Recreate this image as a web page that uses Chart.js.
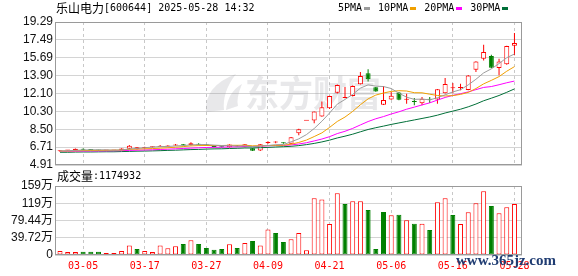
<!DOCTYPE html>
<html>
<head>
<meta charset="utf-8">
<script src="https://cdn.jsdelivr.net/npm/chart.js@4.4.1/dist/chart.umd.min.js"></script>
<style>
  html, body { margin: 0; padding: 0; background: #fff; }
  #wrap { position: relative; width: 578px; height: 276px; overflow: hidden; }
  #kline { position: absolute; left: 0; top: 0; }
  #vol { position: absolute; left: 0; top: 166px; }
</style>
</head>
<body>
<div id="wrap">
  <canvas id="kline" width="578" height="176"></canvas>
  <canvas id="vol" width="578" height="110"></canvas>
</div>
<script>
// header
const title = '乐山电力[600644] 2025-05-28 14:32';
const volTitle = '成交量:1174932';

// trading days
const days = ['02-28',
  '03-03', '03-04', '03-05', '03-06', '03-07', '03-10', '03-11', '03-12', '03-13', '03-14',
  '03-17', '03-18', '03-19', '03-20', '03-21', '03-24', '03-25', '03-26', '03-27', '03-28', '03-31',
  '04-01', '04-02', '04-03', '04-07', '04-08', '04-09', '04-10', '04-11', '04-14', '04-15',
  '04-16', '04-17', '04-18', '04-21', '04-22', '04-23', '04-24', '04-25', '04-28', '04-29', '04-30',
  '05-06', '05-07', '05-08', '05-09', '05-12', '05-13', '05-14', '05-15', '05-16',
  '05-19', '05-20', '05-21', '05-22', '05-23', '05-26', '05-27', '05-28'];

// daily prices
const open = [6.30, 6.37, 6.38, 6.50, 6.46, 6.42, 6.36, 6.38, 6.42, 6.55,
  6.49, 6.60, 6.70, 6.73, 6.78, 6.86, 6.96, 6.92, 7.05, 6.95,
  6.80, 6.75, 6.70, 6.85, 6.72, 6.60, 6.36, 7.12, 7.17, 7.15,
  7.05, 8.10, 9.35, 9.38, 9.78, 10.62, 12.18, 11.66, 11.85, 13.02,
  14.13, 12.72, 10.98, 11.50, 12.20, 11.48, 11.28, 11.11, 11.52, 11.50,
  12.12, 12.62, 12.66, 12.45, 14.50, 15.60, 15.87, 14.66, 15.05, 16.91];
const high = [6.40, 6.42, 6.58, 6.56, 6.48, 6.44, 6.40, 6.42, 6.60, 6.92,
  6.72, 6.75, 6.76, 6.92, 6.90, 7.02, 7.02, 7.20, 7.10, 7.00,
  6.84, 6.78, 7.00, 6.92, 7.02, 6.62, 7.01, 7.30, 7.30, 7.20,
  7.72, 8.55, 9.35, 10.29, 11.30, 11.88, 13.00, 12.75, 12.90, 14.26,
  14.53, 12.75, 12.85, 12.28, 12.25, 12.08, 11.65, 11.75, 11.75, 12.55,
  13.66, 13.15, 13.09, 13.95, 15.35, 17.01, 16.00, 15.60, 16.90, 18.18];
const low = [6.22, 6.34, 6.36, 6.42, 6.40, 6.34, 6.34, 6.36, 6.40, 6.50,
  6.46, 6.58, 6.68, 6.72, 6.74, 6.84, 6.85, 6.88, 6.90, 6.86,
  6.70, 6.66, 6.68, 6.74, 6.70, 6.32, 6.33, 7.05, 7.10, 7.05,
  7.02, 7.90, 9.35, 9.10, 9.75, 10.55, 12.10, 11.62, 11.80, 13.00,
  13.30, 12.28, 10.95, 11.48, 11.42, 11.08, 10.91, 10.91, 11.14, 11.08,
  12.10, 12.12, 12.42, 12.42, 14.26, 15.43, 14.65, 13.93, 15.00, 15.94];
const close = [6.38, 6.40, 6.55, 6.45, 6.42, 6.37, 6.38, 6.40, 6.58, 6.85,
  6.69, 6.72, 6.73, 6.84, 6.86, 6.98, 6.90, 7.10, 6.95, 6.90,
  6.72, 6.70, 6.98, 6.78, 6.99, 6.35, 6.99, 7.22, 7.20, 7.09,
  7.69, 8.50, 9.35, 10.29, 10.72, 11.85, 12.95, 11.68, 12.85, 13.86,
  13.53, 12.30, 11.45, 11.88, 11.48, 11.52, 11.24, 11.58, 11.48, 12.52,
  13.05, 12.65, 12.70, 13.92, 15.33, 16.27, 14.70, 15.33, 16.88, 17.18];

// moving averages as shown
const ma5 = [6.32, 6.34, 6.39, 6.42, 6.44, 6.44, 6.43, 6.40, 6.43, 6.52,
  6.58, 6.65, 6.71, 6.77, 6.77, 6.83, 6.86, 6.94, 6.96, 6.97,
  6.91, 6.87, 6.85, 6.82, 6.83, 6.76, 6.82, 6.87, 6.95, 6.97,
  7.24, 7.54, 7.97, 8.58, 9.31, 10.14, 11.03, 11.50, 12.01, 12.64,
  12.97, 12.84, 12.80, 12.60, 12.13, 11.73, 11.51, 11.54, 11.46, 11.67,
  11.97, 12.26, 12.48, 12.97, 13.53, 14.17, 14.58, 15.11, 15.70, 16.07];
const ma10 = [6.31, 6.32, 6.34, 6.36, 6.37, 6.38, 6.39, 6.40, 6.42, 6.48,
  6.51, 6.54, 6.56, 6.60, 6.64, 6.70, 6.76, 6.83, 6.86, 6.87,
  6.87, 6.87, 6.89, 6.89, 6.90, 6.84, 6.85, 6.86, 6.88, 6.90,
  7.00, 7.18, 7.42, 7.77, 8.14, 8.69, 9.29, 9.73, 10.30, 10.97,
  11.56, 11.94, 12.15, 12.31, 12.38, 12.35, 12.18, 12.17, 12.03, 11.90,
  11.85, 11.89, 12.01, 12.21, 12.60, 13.07, 13.42, 13.80, 14.34, 14.80];
const ma20 = [6.29, 6.29, 6.30, 6.31, 6.32, 6.32, 6.33, 6.34, 6.35, 6.38,
  6.40, 6.42, 6.44, 6.47, 6.50, 6.54, 6.57, 6.61, 6.64, 6.67,
  6.69, 6.70, 6.73, 6.74, 6.77, 6.77, 6.80, 6.84, 6.87, 6.88,
  6.93, 7.02, 7.15, 7.33, 7.52, 7.76, 8.07, 8.30, 8.59, 8.94,
  9.28, 9.56, 9.78, 10.04, 10.26, 10.52, 10.73, 10.95, 11.16, 11.44,
  11.70, 11.91, 12.08, 12.26, 12.49, 12.71, 12.80, 12.98, 13.18, 13.35];
const ma30 = [6.19, 6.19, 6.21, 6.22, 6.22, 6.23, 6.24, 6.24, 6.26, 6.28,
  6.30, 6.31, 6.33, 6.35, 6.38, 6.40, 6.43, 6.46, 6.48, 6.51,
  6.53, 6.54, 6.57, 6.59, 6.62, 6.62, 6.65, 6.68, 6.72, 6.75,
  6.79, 6.86, 6.96, 7.08, 7.23, 7.41, 7.63, 7.81, 8.01, 8.25,
  8.48, 8.66, 8.82, 8.99, 9.14, 9.29, 9.44, 9.59, 9.74, 9.92,
  10.14, 10.33, 10.52, 10.76, 11.04, 11.37, 11.63, 11.90, 12.22, 12.56];

// volume in 万 shares
const volume = [9.2, 6.9, 6.9, 7.7, 7.7, 7.7, 4.6, 4.6, 9.2, 22,
  13.8, 9.2, 6.9, 22, 15.4, 20, 25.3, 33.8, 25.3, 16.1,
  12.3, 13.8, 24.6, 16.1, 27.6, 32.2, 22, 59, 50.7, 30,
  36, 50.7, 10.7, 130.5, 128, 71.4, 142, 117.4, 123.6, 123.6,
  103.6, 13.8, 99, 91.3, 92.9, 79.8, 72.2, 72.2, 57.6, 121.3,
  130.5, 92.1, 71.4, 98.3, 119, 146.6, 112.8, 96, 109.8, 117.49];

// axis ticks
const priceTicks = [4.91, 6.71, 8.50, 10.30, 12.10, 13.90, 15.69, 17.49, 19.29];
const volTicks = [0, 39.72, 79.44, 119.16, 158.88];
const volTickLabels = ['0', '39.72万', '79.44万', '119万', '159万'];
const maNames = ['5PMA', '10PMA', '20PMA', '30PMA'];
const maColors = ['#9c9c9c', '#f0a000', '#ff00ff', '#006f38'];

const RED = '#ff0000';
const GREEN = '#008000';
const tickIdx = days.map((d, i) => i).filter(i => i % 8 === 3);

const candleUp = close.map((c, i) => c >= open[i]);
const volUp = close.map((c, i) => i === 0 || c >= close[i - 1]);

// mixed CJK / latin text, roughly like the SimSun look of the original
function mixedText(ctx, text, x, y, color) {
    ctx.save();
    ctx.fillStyle = color;
    ctx.textBaseline = 'middle';
    ctx.textAlign = 'left';
    for (const ch of text) {
        ctx.font = /[\u2E80-\u9FFF\uFF00-\uFFEF]/.test(ch) ? '12px "Noto Sans CJK SC"' : '10px "DejaVu Sans Mono"';
        ctx.fillText(ch, x, y);
        x += ctx.measureText(ch).width;
    }
    ctx.restore();
    return x;
}

const frame = {
    id: 'frame',
    afterDatasetsDraw(chart) {
        const { ctx, chartArea: a } = chart;
        ctx.save();
        ctx.strokeStyle = '#9a9a9a';
        ctx.lineWidth = 1;
        ctx.strokeRect(a.left + 0.5, a.top + 0.5, a.right - a.left - 1, a.bottom - a.top - 1);
        ctx.restore();
    }
};

const klineDeco = {
    id: 'klineDeco',
    beforeDatasetsDraw(chart) {
        const ctx = chart.ctx;
        ctx.save();
        ctx.fillStyle = 'rgba(150,150,160,0.22)';
        // rough swoosh of the watermark logo
        ctx.beginPath();
        ctx.moveTo(206, 112);
        ctx.quadraticCurveTo(204, 86, 236, 74);
        ctx.quadraticCurveTo(222, 92, 224, 110);
        ctx.closePath();
        ctx.fill();
        ctx.beginPath();
        ctx.moveTo(226, 110);
        ctx.quadraticCurveTo(228, 92, 242, 84);
        ctx.quadraticCurveTo(236, 98, 238, 106);
        ctx.closePath();
        ctx.fill();
        ctx.font = 'bold 36px "Noto Sans CJK SC"';
        ctx.textBaseline = 'middle';
        ctx.fillText('东方财富', 245, 93, 136);
        ctx.restore();
    },
    afterDraw(chart) {
        const ctx = chart.ctx;
        mixedText(ctx, title, 56, 8.5, '#000');
        let x = 338;
        maNames.forEach((name, k) => {
            x = mixedText(ctx, name, x, 8.5, '#000');
            ctx.fillStyle = maColors[k];
            ctx.fillRect(Math.round(x + 2), 7, 6, 3);
            x += 2 + 6 + 8;
        });
    }
};

const volDeco = {
    id: 'volDeco',
    afterDraw(chart) {
        const ctx = chart.ctx;
        mixedText(ctx, volTitle, 57, 10.5, '#000');
        ctx.save();
        ctx.fillStyle = '#1f3c72';
        ctx.font = 'bold 15px "Liberation Serif"';
        ctx.textBaseline = 'middle';
        ctx.fillText('www.365jz.com', 456, 95, 116);
        ctx.restore();
    }
};

const xScale = (showLabels) => ({
    type: 'linear',
    min: -0.65,
    max: 59.98,
    offset: false,
    afterBuildTicks: s => { s.ticks = tickIdx.map(v => ({ value: v })); },
    afterFit: s => { s.height = showLabels ? 21 : 0; },
    ticks: {
        display: showLabels,
        autoSkip: false,
        maxRotation: 0,
        padding: 5,
        color: RED,
        font: { family: 'DejaVu Sans Mono', size: 10 },
        callback: v => days[v]
    },
    grid: { color: '#c8c8c8', drawTicks: false, offset: false },
    border: { display: false, dash: [3, 3] }
});

const maSets = [ma5, ma10, ma20, ma30].map((arr, k) => ({
    type: 'line',
    label: maNames[k],
    data: arr.map((v, i) => ({ x: i, y: v })),
    borderColor: maColors[k],
    borderWidth: 1,
    pointRadius: 0,
    tension: 0,
    order: 1
}));

new Chart(document.getElementById('kline'), {
    type: 'bar',
    data: {
        datasets: [
            ...maSets,
            {
                type: 'bar',
                data: days.map((d, i) => ({ x: i, y: [low[i], high[i]] })),
                backgroundColor: candleUp.map(u => u ? RED : GREEN),
                barThickness: 1,
                inflateAmount: 0,
                grouped: false,
                order: 3
            },
            {
                type: 'bar',
                data: days.map((d, i) => ({ x: i, y: [Math.min(open[i], close[i]), Math.max(open[i], close[i])] })),
                backgroundColor: candleUp.map(u => u ? '#ffffff' : GREEN),
                borderColor: candleUp.map(u => u ? RED : GREEN),
                borderWidth: 1,
                borderSkipped: false,
                barThickness: 5,
                minBarLength: 1,
                inflateAmount: 0,
                grouped: false,
                order: 2
            }
        ]
    },
    options: {
        responsive: false,
        animation: false,
        events: [],
        layout: { padding: { left: 0, right: 56, top: 22, bottom: 11 } },
        plugins: { legend: { display: false }, tooltip: { enabled: false } },
        scales: {
            x: xScale(false),
            y: {
                min: 4.91,
                max: 19.29,
                afterFit: s => { s.width = 55; },
                afterBuildTicks: s => { s.ticks = priceTicks.map(v => ({ value: v })); },
                ticks: {
                    autoSkip: false,
                    padding: 2,
                    color: '#111',
                    font: { family: 'Liberation Sans', size: 12 },
                    callback: v => v.toFixed(2)
                },
                grid: { color: '#d4d4d4', drawTicks: false },
                border: { display: false }
            }
        }
    },
    plugins: [klineDeco, frame]
});

new Chart(document.getElementById('vol'), {
    type: 'bar',
    data: {
        datasets: [{
            data: volume.map((v, i) => ({ x: i, y: v })),
            backgroundColor: volUp.map(u => u ? '#ffffff' : GREEN),
            borderColor: volUp.map(u => u ? RED : GREEN),
            borderWidth: 1,
            borderSkipped: false,
            barThickness: 5,
            inflateAmount: 0,
            grouped: false
        }]
    },
    options: {
        responsive: false,
        animation: false,
        events: [],
        layout: { padding: { left: 0, right: 56, top: 20, bottom: 0 } },
        plugins: { legend: { display: false }, tooltip: { enabled: false } },
        scales: {
            x: xScale(true),
            y: {
                min: 0,
                max: 158.88,
                afterFit: s => { s.width = 55; },
                afterBuildTicks: s => { s.ticks = volTicks.map(v => ({ value: v })); },
                ticks: {
                    autoSkip: false,
                    padding: 2,
                    color: '#111',
                    font: { family: "'Liberation Sans', 'Noto Sans CJK SC'", size: 12 },
                    callback: (v, i) => volTickLabels[i]
                },
                grid: { color: '#d4d4d4', drawTicks: false },
                border: { display: false }
            }
        }
    },
    plugins: [volDeco, frame]
});
</script>
</body>
</html>
